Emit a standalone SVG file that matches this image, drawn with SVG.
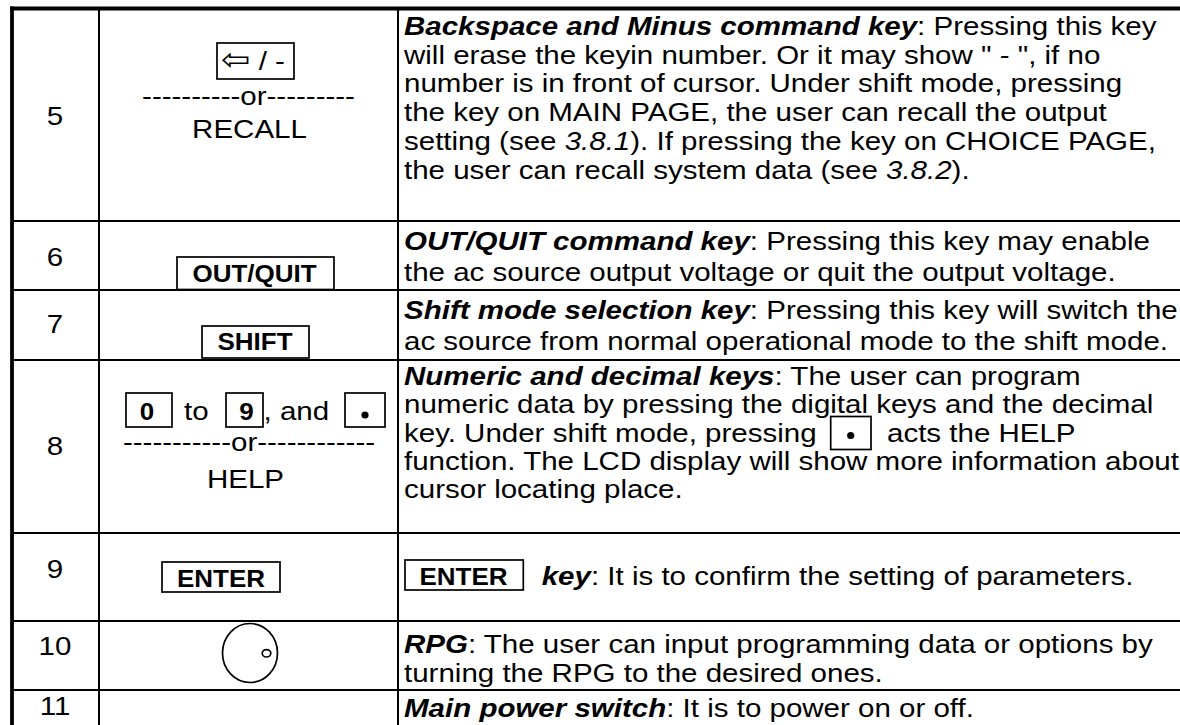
<svg xmlns="http://www.w3.org/2000/svg" width="1180" height="725" viewBox="0 0 1180 725">
<style>
.t{font-family:"Liberation Sans",Arial,sans-serif;font-size:26px;fill:#000}
.k{font-family:"Liberation Sans",Arial,sans-serif;font-size:23.5px;font-weight:bold;fill:#000}
.bi{font-weight:bold;font-style:italic}
.i{font-style:italic}
.c{text-anchor:middle}
.ln{stroke:#000;stroke-width:2;fill:none}
.ol{stroke:#000;stroke-width:3.8;fill:none}
.key{fill:none;stroke:#000;stroke-width:1.7}
</style>
<rect width="1180" height="725" fill="#fff"/>
<g id="grid">
<line class="ol" x1="10.1" y1="8.5" x2="1180" y2="8.5"/>
<line class="ol" x1="12" y1="6.6" x2="12" y2="725"/>
<line class="ln" x1="99" y1="8" x2="99" y2="725"/>
<line class="ln" x1="398" y1="8" x2="398" y2="725"/>
<line class="ln" x1="12" y1="221" x2="1180" y2="221"/>
<line class="ln" x1="12" y1="290" x2="1180" y2="290"/>
<line class="ln" x1="12" y1="360" x2="1180" y2="360"/>
<line class="ln" x1="12" y1="533" x2="1180" y2="533"/>
<line class="ln" x1="12" y1="621" x2="1180" y2="621"/>
<line class="ln" x1="12" y1="690" x2="1180" y2="690"/>
</g>
<g id="row5">
<text class="t c" transform="translate(55 125) scale(1.135 1)">5</text>
<rect class="key" x="217" y="43" width="77" height="36"/>
<text class="t" transform="translate(221 70) scale(1.135 1)"><tspan font-family="DejaVu Sans" font-size="31">⇦</tspan> / -</text>
<text class="t c" transform="translate(248.5 104.5) scale(1.135 1)">----------or---------</text>
<text class="t c" transform="translate(249.5 138) scale(1.135 1)">RECALL</text>
<text class="t" transform="translate(404 35) scale(1.135 1)"><tspan class="bi">Backspace and Minus command key</tspan>: Pressing this key</text>
<text class="t" transform="translate(404 63.7) scale(1.135 1)">will erase the keyin number. Or it may show " - ", if no</text>
<text class="t" transform="translate(404 92.4) scale(1.135 1)">number is in front of cursor. Under shift mode, pressing</text>
<text class="t" transform="translate(404 121.1) scale(1.135 1)">the key on MAIN PAGE, the user can recall the output</text>
<text class="t" transform="translate(404 149.8) scale(1.135 1)">setting (see <tspan class="i">3.8.1</tspan>). If pressing the key on CHOICE PAGE,</text>
<text class="t" transform="translate(404 178.5) scale(1.135 1)">the user can recall system data (see <tspan class="i">3.8.2</tspan>).</text>
</g>
<g id="row6">
<text class="t c" transform="translate(55 266) scale(1.135 1)">6</text>
<rect class="key" x="177" y="257" width="157" height="32.5"/>
<text class="k c" transform="translate(254.5 281.7) scale(1.106 1)">OUT/QUIT</text>
<text class="t" transform="translate(404 249.5) scale(1.135 1)"><tspan class="bi">OUT/QUIT command key</tspan>: Pressing this key may enable</text>
<text class="t" transform="translate(404 281) scale(1.135 1)">the ac source output voltage or quit the output voltage.</text>
</g>
<g id="row7">
<text class="t c" transform="translate(55 332.7) scale(1.135 1)">7</text>
<rect class="key" x="202" y="326" width="107" height="32"/>
<text class="k c" transform="translate(255 350) scale(1.106 1)">SHIFT</text>
<text class="t" transform="translate(404 318.5) scale(1.135 1)"><tspan class="bi">Shift mode selection key</tspan>: Pressing this key will switch the</text>
<text class="t" transform="translate(404 350) scale(1.135 1)">ac source from normal operational mode to the shift mode.</text>
</g>
<g id="row8">
<text class="t c" transform="translate(55 455) scale(1.135 1)">8</text>
<rect class="key" x="126" y="393" width="46" height="34"/>
<text class="k c" transform="translate(147 420) scale(1.106 1)">0</text>
<text class="t" transform="translate(184 420) scale(1.135 1)">to</text>
<rect class="key" x="226" y="393" width="37" height="34"/>
<text class="k c" transform="translate(246.5 420) scale(1.106 1)">9</text>
<text class="t" transform="translate(263.5 420) scale(1.135 1)">, and</text>
<rect class="key" x="345" y="393" width="40" height="34"/>
<circle cx="365" cy="415" r="3.6" fill="#000"/>
<text class="t c" transform="translate(249 451) scale(1.135 1)">-----------or------------</text>
<text class="t c" transform="translate(245.5 488) scale(1.135 1)">HELP</text>
<text class="t" transform="translate(404 385) scale(1.135 1)"><tspan class="bi">Numeric and decimal keys</tspan>: The user can program</text>
<text class="t" transform="translate(404 413.3) scale(1.135 1)">numeric data by pressing the digital keys and the decimal</text>
<text class="t" transform="translate(404 441.7) scale(1.135 1)">key. Under shift mode, pressing</text>
<rect class="key" x="830.7" y="416.5" width="40.3" height="33"/>
<circle cx="850.7" cy="435.5" r="3.6" fill="#000"/>
<text class="t" transform="translate(887 441.7) scale(1.135 1)">acts the HELP</text>
<text class="t" transform="translate(404 470) scale(1.135 1)">function. The LCD display will show more information about</text>
<text class="t" transform="translate(404 498.3) scale(1.135 1)">cursor locating place.</text>
</g>
<g id="row9">
<text class="t c" transform="translate(55 578) scale(1.135 1)">9</text>
<rect class="key" x="162" y="562" width="118" height="30"/>
<text class="k c" transform="translate(221 586.7) scale(1.106 1)">ENTER</text>
<rect class="key" x="405" y="560" width="118.3" height="30"/>
<text class="k c" transform="translate(463.5 585) scale(1.106 1)">ENTER</text>
<text class="t" transform="translate(541.7 585) scale(1.135 1)"><tspan class="bi">key</tspan>: It is to confirm the setting of parameters.</text>
</g>
<g id="row10">
<text class="t c" transform="translate(55 655) scale(1.135 1)">10</text>
<ellipse cx="250" cy="653" rx="27.5" ry="29.5" class="key"/>
<ellipse cx="266.5" cy="653.3" rx="4.3" ry="3.7" class="key"/>
<text class="t" transform="translate(404 653.3) scale(1.135 1)"><tspan class="bi">RPG</tspan>: The user can input programming data or options by</text>
<text class="t" transform="translate(404 681.7) scale(1.135 1)">turning the RPG to the desired ones.</text>
</g>
<g id="row11">
<text class="t c" transform="translate(55 715) scale(1.135 1)">11</text>
<text class="t" transform="translate(404 716.7) scale(1.135 1)"><tspan class="bi">Main power switch</tspan>: It is to power on or off.</text>
</g>
</svg>
